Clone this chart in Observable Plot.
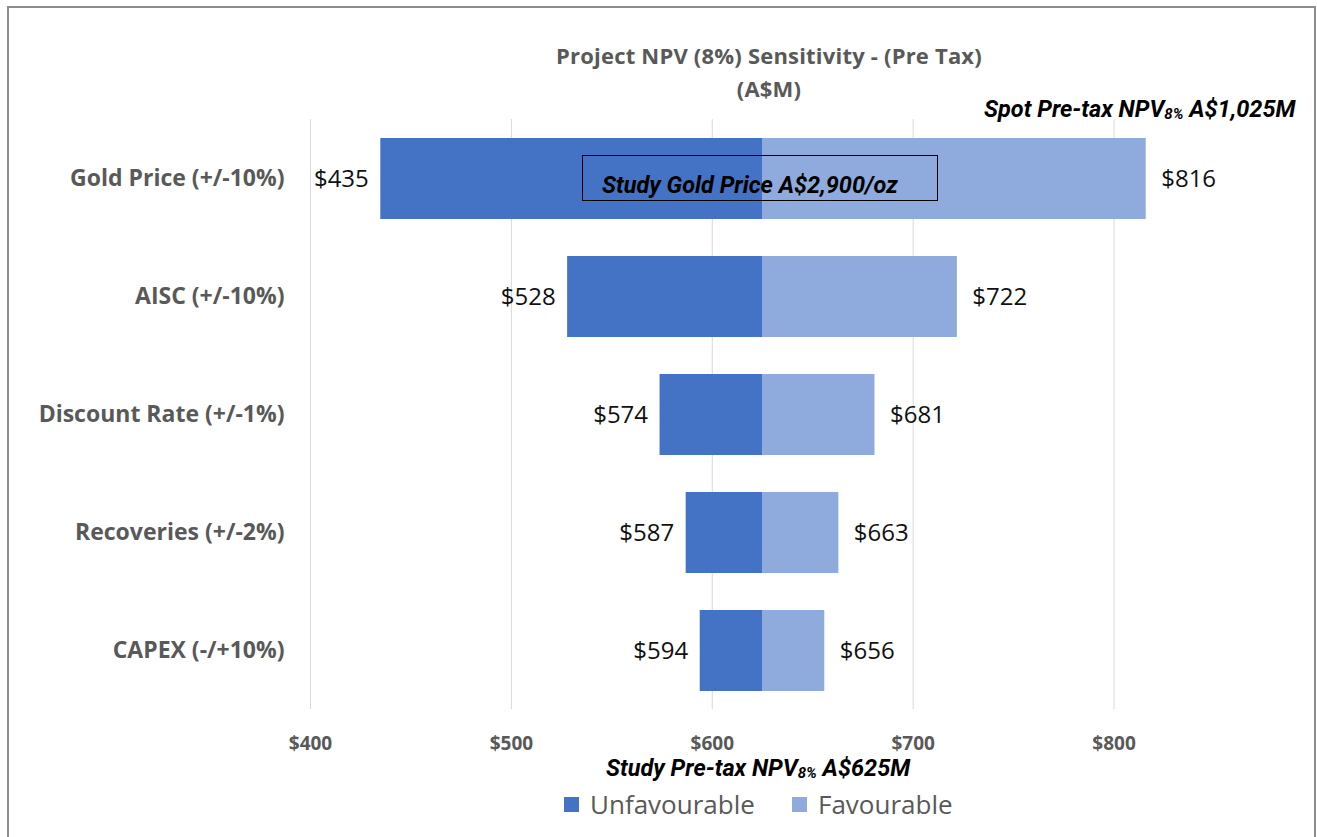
<!DOCTYPE html>
<html>
<head>
<meta charset="utf-8">
<script src="https://cdn.jsdelivr.net/npm/d3@7"></script>
<script src="https://cdn.jsdelivr.net/npm/@observablehq/plot@0.6"></script>
<style>
  html, body { margin: 0; padding: 0; background: #fff; }
  #wrap { position: relative; width: 1317px; height: 837px; overflow: hidden; font-family: "Open Sans", Lato, sans-serif; }
  #frame { position: absolute; left: 7px; top: 6px; width: 1309px; height: 840px; border: 2px solid #8c8c8c; box-sizing: border-box; pointer-events: none; }
  #chart { position: absolute; left: 0; top: 0; }
  .title { position: absolute; width: 600px; text-align: center; color: #595959; font-weight: bold; font-size: 22px; left: 469px; letter-spacing: 0.2px; line-height: 30px; }
  .ann { position: absolute; font-family: Roboto, sans-serif; font-weight: bold; font-style: italic; color: #000; font-size: 23.5px; white-space: nowrap; line-height: 24px; }
  .ann sub { font-size: 15px; vertical-align: -2px; line-height: 0; }
  #goldbox { position: absolute; left: 582px; top: 155px; width: 356px; height: 46px; border: 1.5px solid #000; box-sizing: border-box; }
  .leg { position: absolute; top: 788px; font-size: 26px; color: #595959; white-space: nowrap; line-height: 32px; }
  .sw { display: inline-block; width: 15px; height: 15px; margin-right: 11px; vertical-align: 2px; }
</style>
</head>
<body>
<div id="wrap">
  <div id="chart"></div>
  <div class="title" style="top:40px;">Project NPV (8%) Sensitivity - (Pre Tax)</div>
  <div class="title" style="top:73px;">(A$M)</div>
  <div class="ann" style="left:984px; top:97px;">Spot Pre-tax NPV<sub>8%</sub> A$1,025M</div>
  <div id="goldbox"></div>
  <div class="ann" style="left:602px; top:173px;">Study Gold Price A$2,900/oz</div>
  <div class="ann" style="left:606px; top:756px;">Study Pre-tax NPV<sub>8%</sub> A$625M</div>
  <div class="leg" style="left:564px;"><span class="sw" style="background:#4472C4"></span>Unfavourable</div>
  <div class="leg" style="left:792px;"><span class="sw" style="background:#8FAADC"></span>Favourable</div>
  <div id="frame"></div>
</div>
<script>
const categories = ["Gold Price (+/-10%)", "AISC (+/-10%)", "Discount Rate (+/-1%)", "Recoveries (+/-2%)", "CAPEX (-/+10%)"];
const unfavourable = [435, 528, 574, 587, 594];
const favourable = [816, 722, 681, 663, 656];
const baseNPV = 625;
const xTicks = [400, 500, 600, 700, 800];
const xTickLabels = ["$400", "$500", "$600", "$700", "$800"];

const rows = categories.map((c, i) => ({cat: c, low: unfavourable[i], high: favourable[i]}));

const chart = Plot.plot({
  width: 1317,
  height: 760,
  marginLeft: 310,
  marginRight: 103,
  marginTop: 119,
  marginBottom: 51,
  style: {fontFamily: "'Open Sans', Lato, sans-serif", background: "transparent"},
  x: {domain: [400, 850], ticks: xTicks, tickFormat: (d) => xTickLabels[xTicks.indexOf(d)]},
  y: {domain: categories, paddingInner: 0.314, paddingOuter: 0.157, label: null},
  marks: [
    Plot.gridX(xTicks, {stroke: "#d9d9d9", strokeOpacity: 1, strokeWidth: 1}),
    Plot.barX(rows, {y: "cat", x1: "low", x2: () => baseNPV, fill: "#4472C4"}),
    Plot.barX(rows, {y: "cat", x1: () => baseNPV, x2: "high", fill: "#8FAADC"}),
    Plot.text(rows, {y: "cat", x: "low", text: (d) => "$" + d.low, textAnchor: "end", dx: -12, fontSize: 24, fill: "#111"}),
    Plot.text(rows, {y: "cat", x: "high", text: (d) => "$" + d.high, textAnchor: "start", dx: 15, fontSize: 24, fill: "#111"}),
    Plot.axisX(xTicks, {tickSize: 0, tickPadding: 27, fontSize: 19, fontWeight: "bold", fill: "#595959", label: null, tickFormat: (d) => xTickLabels[xTicks.indexOf(d)]}),
    Plot.axisY({tickSize: 0, tickPadding: 26, fontSize: 23, fontWeight: "bold", fill: "#595959", label: null})
  ]
});
document.getElementById("chart").appendChild(chart);
</script>
</body>
</html>
